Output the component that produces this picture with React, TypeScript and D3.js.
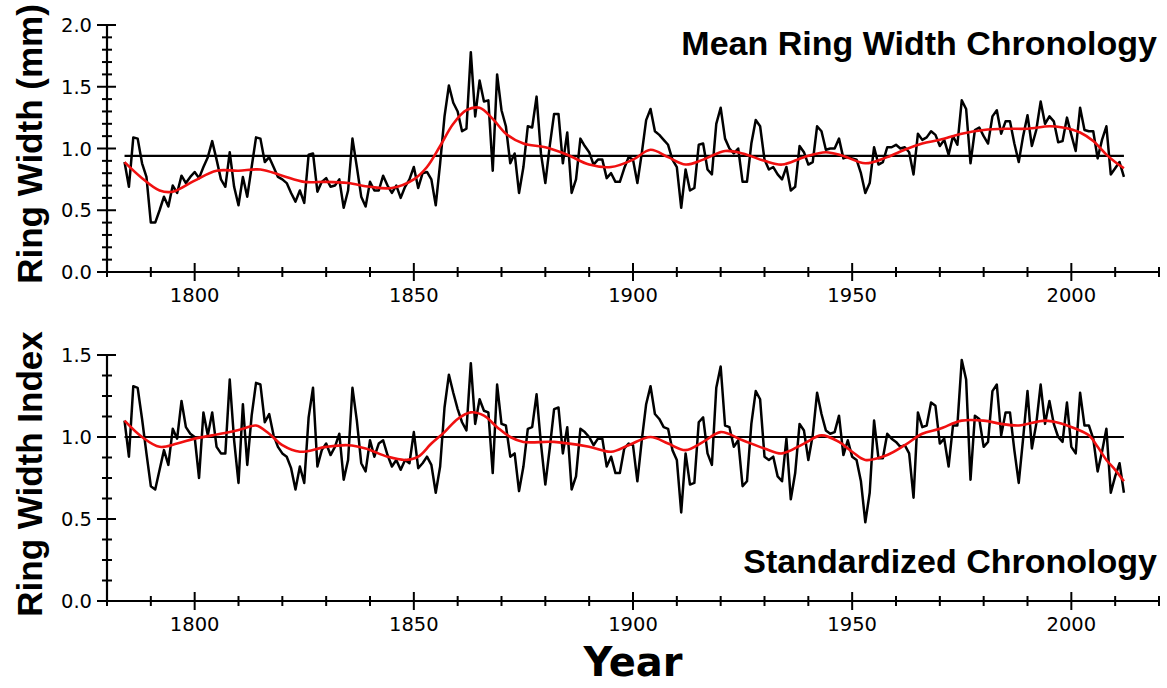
import React from 'react'
import * as d3 from 'd3'

// annual series, first year 1784
const firstYear = 1784

// mean ring width (mm), 1784-2012
const ringWidth = [
  0.89, 0.69, 1.09, 1.08, 0.88, 0.77, 0.40, 0.40, 0.50, 0.61,
  0.53, 0.70, 0.64, 0.78, 0.72, 0.77, 0.81, 0.76, 0.85, 0.93,
  1.06, 0.91, 0.75, 0.69, 0.97, 0.69, 0.54, 0.77, 0.61, 0.85,
  1.09, 1.08, 0.89, 0.93, 0.85, 0.77, 0.75, 0.72, 0.64, 0.57,
  0.66, 0.56, 0.95, 0.96, 0.65, 0.73, 0.76, 0.69, 0.70, 0.75,
  0.52, 0.66, 1.08, 0.85, 0.61, 0.53, 0.73, 0.66, 0.66, 0.78,
  0.70, 0.64, 0.70, 0.60, 0.69, 0.75, 0.85, 0.68, 0.80, 0.81,
  0.75, 0.54, 0.88, 1.26, 1.51, 1.37, 1.30, 1.14, 1.16, 1.78,
  1.26, 1.55, 1.38, 1.39, 0.82, 1.60, 1.31, 1.18, 0.88, 0.96,
  0.64, 0.85, 1.18, 1.17, 1.42, 0.96, 0.72, 1.02, 1.28, 1.28,
  0.88, 1.13, 0.64, 0.75, 1.08, 1.02, 0.97, 0.87, 0.91, 0.91,
  0.76, 0.80, 0.73, 0.73, 0.84, 0.93, 0.91, 0.72, 0.96, 1.23,
  1.32, 1.14, 1.11, 1.07, 1.03, 0.91, 0.85, 0.52, 0.83, 0.66,
  0.68, 1.03, 1.04, 0.83, 0.79, 1.20, 1.33, 1.08, 1.00, 0.96,
  1.00, 0.73, 0.73, 1.04, 1.23, 1.18, 0.91, 0.83, 0.85, 0.79,
  0.75, 0.85, 0.66, 0.69, 1.02, 0.97, 0.87, 0.89, 1.18, 1.14,
  0.99, 1.00, 1.00, 1.08, 0.92, 0.93, 0.92, 0.91, 0.80, 0.64,
  0.72, 1.01, 0.87, 0.89, 1.01, 1.01, 1.03, 1.00, 1.01, 0.97,
  0.79, 1.12, 1.07, 1.09, 1.14, 1.11, 1.02, 1.07, 0.95, 1.10,
  1.03, 1.39, 1.32, 0.88, 1.15, 1.17, 1.10, 1.04, 1.26, 1.31,
  1.12, 1.22, 1.22, 1.04, 0.89, 1.10, 1.27, 1.02, 1.15, 1.38,
  1.20, 1.26, 1.22, 1.05, 1.06, 1.25, 1.11, 0.98, 1.33, 1.15,
  1.14, 1.14, 0.92, 1.07, 1.18, 0.79, 0.84, 0.89, 0.77,
]

// standardized ring width index, 1784-2012
const widthIndex = [
  1.10, 0.88, 1.31, 1.30, 1.11, 0.90, 0.70, 0.68, 0.80, 0.92,
  0.83, 1.05, 0.99, 1.22, 1.06, 1.02, 1.00, 0.75, 1.15, 1.01,
  1.15, 0.94, 0.90, 0.90, 1.35, 0.98, 0.72, 1.20, 0.83, 1.13,
  1.33, 1.32, 1.09, 1.14, 1.01, 0.94, 0.90, 0.88, 0.81, 0.68,
  0.82, 0.72, 1.12, 1.30, 0.82, 0.92, 0.96, 0.89, 0.94, 1.02,
  0.74, 0.86, 1.30, 1.10, 0.84, 0.79, 0.98, 0.88, 0.96, 0.98,
  0.89, 0.82, 0.86, 0.80, 0.86, 0.84, 1.03, 0.81, 0.84, 0.88,
  0.83, 0.66, 0.82, 1.18, 1.38, 1.27, 1.17, 1.09, 1.04, 1.45,
  1.08, 1.23, 1.16, 1.15, 0.78, 1.32, 1.08, 1.07, 0.88, 0.90,
  0.67, 0.82, 1.05, 1.06, 1.26, 0.96, 0.71, 0.93, 1.17, 1.18,
  0.90, 1.06, 0.68, 0.76, 1.05, 1.03, 1.00, 0.95, 0.99, 0.99,
  0.82, 0.88, 0.78, 0.78, 0.93, 0.96, 0.95, 0.73, 0.98, 1.20,
  1.31, 1.14, 1.11, 1.06, 1.05, 0.92, 0.86, 0.54, 0.90, 0.71,
  0.72, 1.09, 1.12, 0.90, 0.83, 1.30, 1.43, 1.07, 1.06, 0.94,
  0.98, 0.70, 0.73, 1.08, 1.28, 1.23, 0.88, 0.86, 0.88, 0.76,
  0.73, 0.99, 0.62, 0.78, 1.08, 1.04, 0.86, 1.01, 1.27, 1.14,
  1.04, 1.02, 1.03, 1.13, 0.89, 0.98, 0.88, 0.86, 0.73, 0.48,
  0.66, 1.10, 0.87, 0.87, 1.02, 0.99, 0.97, 0.94, 0.95, 0.90,
  0.63, 1.15, 1.06, 1.07, 1.21, 1.19, 0.96, 0.99, 0.82, 1.07,
  1.07, 1.47, 1.35, 0.74, 1.13, 1.11, 0.94, 0.97, 1.28, 1.32,
  1.01, 1.15, 1.15, 0.92, 0.72, 0.99, 1.28, 0.93, 1.08, 1.32,
  1.08, 1.22, 1.08, 1.00, 0.97, 1.21, 0.94, 0.90, 1.27, 1.07,
  1.07, 0.99, 0.79, 0.91, 1.05, 0.66, 0.76, 0.84, 0.66,
]

// smoothing spline
const splineWidthYears = [1784, 1788, 1792, 1795, 1800, 1805, 1810, 1815, 1820, 1825, 1830, 1835, 1840, 1845, 1850, 1853, 1856, 1859, 1862, 1865, 1868, 1871, 1875, 1880, 1885, 1890, 1895, 1900, 1904, 1908, 1912, 1916, 1921, 1925, 1930, 1934, 1939, 1944, 1948, 1953, 1958, 1962, 1966, 1970, 1975, 1980, 1985, 1990, 1995, 1998, 2002, 2005, 2008, 2010, 2012]
const splineWidth = [0.89, 0.76, 0.66, 0.65, 0.74, 0.82, 0.82, 0.83, 0.78, 0.73, 0.73, 0.72, 0.69, 0.68, 0.75, 0.85, 1.02, 1.20, 1.31, 1.33, 1.24, 1.12, 1.04, 1.01, 0.95, 0.87, 0.85, 0.91, 0.99, 0.93, 0.87, 0.91, 0.98, 0.96, 0.90, 0.87, 0.93, 0.97, 0.94, 0.88, 0.93, 0.99, 1.04, 1.07, 1.12, 1.15, 1.16, 1.16, 1.18, 1.17, 1.13, 1.06, 0.95, 0.89, 0.84]

const splineIndexYears = [1784, 1788, 1792, 1796, 1800, 1804, 1808, 1811, 1814, 1817, 1820, 1824, 1830, 1835, 1839, 1844, 1848, 1851, 1854, 1857, 1860, 1863, 1866, 1869, 1872, 1875, 1882, 1890, 1895, 1899, 1904, 1908, 1912, 1916, 1920, 1925, 1930, 1934, 1939, 1943, 1947, 1950, 1953, 1958, 1962, 1966, 1970, 1975, 1980, 1984, 1988, 1994, 1998, 2001, 2004, 2006, 2008, 2010, 2012]
const splineIndex = [1.10, 1.00, 0.94, 0.96, 0.99, 1.01, 1.03, 1.05, 1.07, 1.02, 0.95, 0.91, 0.94, 0.95, 0.93, 0.88, 0.86, 0.88, 0.96, 1.03, 1.11, 1.15, 1.13, 1.06, 1.00, 0.97, 0.97, 0.94, 0.91, 0.95, 1.00, 0.96, 0.92, 0.97, 1.03, 0.98, 0.93, 0.90, 0.96, 1.01, 0.97, 0.91, 0.86, 0.89, 0.95, 1.02, 1.05, 1.10, 1.10, 1.08, 1.07, 1.10, 1.08, 1.05, 1.01, 0.94, 0.86, 0.80, 0.73]

const meanWidth = 0.94
const meanIndex = 1.0

const yearTicks = [1800, 1850, 1900, 1950, 2000]
const widthTicks = [0.0, 0.5, 1.0, 1.5, 2.0]
const indexTicks = [0.0, 0.5, 1.0, 1.5]

const W = 1167
const H = 688
const tickFont = '"DejaVu Sans", sans-serif'
const boldFont = '"Liberation Sans", Arial, sans-serif'

const x = d3.scaleLinear().domain([1780, 2020]).range([107, 1159])
const yearMinor = d3.range(1780, 2021, 10)

function Panel({ y, values, splineYears, spline, mean, majors, minorStep, title, titleY, yLabel, labelY }) {
  const [y0, y1] = y.domain()
  const minors = d3.range(y0, y1 + 1e-6, minorStep)
  const base = y(y0)
  const line = d3.line<number>()
    .x((d, i) => x(firstYear + i))
    .y(d => y(d))
  const smooth = d3.line<number>()
    .x((d, i) => x(splineYears[i]))
    .y(d => y(d))
    .curve(d3.curveCatmullRom.alpha(0.5))
  const lastYear = firstYear + values.length - 1
  return (
    <g>
      {/* axes */}
      <line x1={x(1780)} x2={x(2020)} y1={base} y2={base} stroke="#000" strokeWidth={2.2} />
      <line x1={x(1780)} x2={x(1780)} y1={base} y2={y(y1)} stroke="#000" strokeWidth={2.2} />
      {yearMinor.map(t => {
        const major = yearTicks.includes(t)
        const l = major ? 9 : 5
        return <line key={'xt' + t} x1={x(t)} x2={x(t)} y1={base - l} y2={base + l} stroke="#000" strokeWidth={2} />
      })}
      {yearTicks.map(t => (
        <text key={'xl' + t} x={x(t)} y={base + 30} textAnchor="middle" fontFamily={tickFont} fontSize={19.5}>{t}</text>
      ))}
      {minors.map(t => {
        const major = majors.some(m => Math.abs(m - t) < 1e-6)
        const l = major ? 10 : 5
        return <line key={'yt' + t} x1={x(1780) - l} x2={x(1780) + (major ? 9 : 5)} y1={y(t)} y2={y(t)} stroke="#000" strokeWidth={2} />
      })}
      {majors.map(t => (
        <text key={'yl' + t} x={92} y={y(t)} dy="0.36em" textAnchor="end" fontFamily={tickFont} fontSize={19.5}>{t.toFixed(1)}</text>
      ))}
      <text transform={`translate(42,${labelY}) rotate(-90)`} textAnchor="middle" fontFamily={boldFont} fontWeight="bold" fontSize={35}>{yLabel}</text>
      <text x={1157} y={titleY} textAnchor="end" fontFamily={boldFont} fontWeight="bold" fontSize={34}>{title}</text>

      {/* series */}
      <line x1={x(firstYear)} x2={x(lastYear)} y1={y(mean)} y2={y(mean)} stroke="#000" strokeWidth={2.2} />
      <path d={line(values)} fill="none" stroke="#000" strokeWidth={2.5} strokeLinejoin="round" />
      <path d={smooth(spline)} fill="none" stroke="#f01010" strokeWidth={2.6} />
    </g>
  )
}

export default function App() {
  const yTop = d3.scaleLinear().domain([0, 2]).range([272, 25])
  const yBot = d3.scaleLinear().domain([0, 1.5]).range([601, 355])
  return (
    <svg width={W} height={H} style={{ position: 'absolute', left: 0, top: 0, background: '#fff' }}>
      <rect width={W} height={H} fill="#fff" />
      <Panel y={yTop} values={ringWidth} splineYears={splineWidthYears} spline={splineWidth} mean={meanWidth}
        majors={widthTicks} minorStep={0.1} title="Mean Ring Width Chronology" titleY={55}
        yLabel="Ring Width (mm)" labelY={144} />
      <Panel y={yBot} values={widthIndex} splineYears={splineIndexYears} spline={splineIndex} mean={meanIndex}
        majors={indexTicks} minorStep={0.125} title="Standardized Chronology" titleY={573}
        yLabel="Ring Width Index" labelY={474} />
      <text x={633} y={676} textAnchor="middle" fontFamily='"DejaVu Sans", sans-serif' fontWeight="bold" fontSize={40}>Year</text>
    </svg>
  )
}
